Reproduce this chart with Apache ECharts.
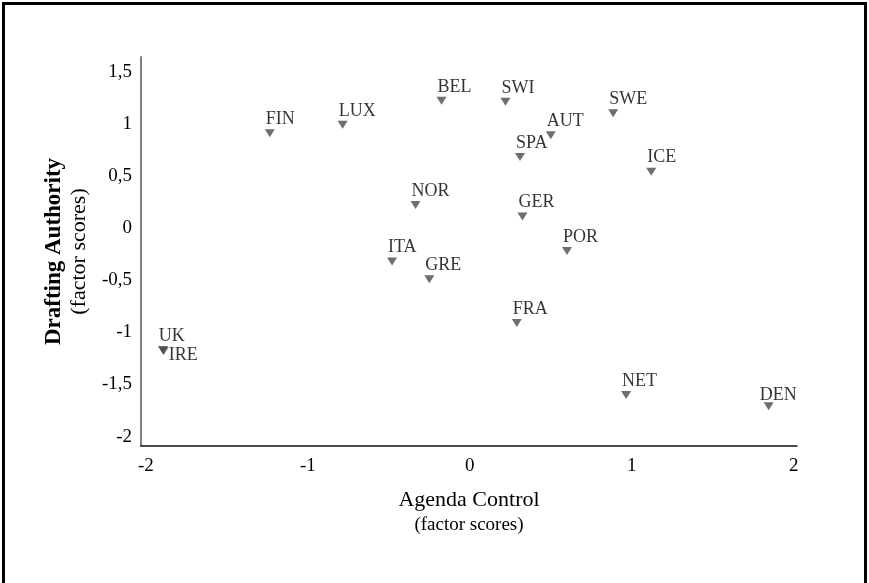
<!DOCTYPE html>
<html>
<head>
<meta charset="utf-8">
<script src="https://cdn.jsdelivr.net/npm/echarts@6/dist/echarts.min.js"></script>
<style>
html,body{margin:0;padding:0;background:#fff;}
#chart{width:869px;height:583px;}
</style>
</head>
<body>
<div id="chart"></div>
<script>
// ---- data ----
const countries = ['FIN','LUX','BEL','SWI','SWE','AUT','SPA','ICE','NOR','GER','ITA','GRE','POR','FRA','UK','IRE','NET','DEN'];
const agendaControl = [-1.235,-0.785,-0.175,0.22,0.885,0.50,0.31,1.12,-0.335,0.325,-0.48,-0.25,0.60,0.29,-1.895,-1.89,0.965,1.845];
const draftingAuthority = [0.91,0.99,1.22,1.21,1.10,0.89,0.68,0.54,0.22,0.11,-0.32,-0.49,-0.22,-0.91,-1.17,-1.18,-1.60,-1.71];
const xTickValues = [-2,-1,0,1,2];
const yTickValues = [-2,-1.5,-1,-0.5,0,0.5,1,1.5];

// ---- label placement styles (not data) ----
const defaultLabel = {position:[1,-1], align:'left', verticalAlign:'bottom'};
const labelOverrides = {
  IRE: {position:[10,8], align:'left', verticalAlign:'middle'},
  DEN: {position:[-4,2], align:'left', verticalAlign:'bottom'}
};

const fmt = v => String(v).replace('.', ',');
const serif = 'Liberation Serif';

const points = countries.map((c,i) => {
  const lp = labelOverrides[c] || defaultLabel;
  return {name:c, value:[agendaControl[i], draftingAuthority[i]], label:{position:lp.position, align:lp.align, verticalAlign:lp.verticalAlign}};
});

const chart = echarts.init(document.getElementById('chart'), null, {renderer:'canvas'});
chart.setOption({
  backgroundColor:'#fff',
  animation:false,
  graphic:[{
    type:'rect', shape:{x:3.5,y:3.5,width:862,height:640},
    style:{fill:'none', stroke:'#000', lineWidth:3}, silent:true
  }],
  grid:{left:141, right:72, top:57, bottom:137, containLabel:false},
  xAxis:{
    type:'value', min:-2.03, max:2.02,
    axisLine:{show:true, onZero:false, lineStyle:{color:'#111', width:1.5}},
    axisTick:{show:false}, splitLine:{show:false},
    axisLabel:{customValues:xTickValues, formatter:fmt, color:'#000', fontFamily:serif, fontSize:19, margin:11},
    name:'{a|Agenda Control}\n{b|(factor scores)}',
    nameLocation:'middle', nameGap:41,
    nameTextStyle:{rich:{
      a:{fontFamily:serif, fontSize:22, lineHeight:26, color:'#000', align:'center'},
      b:{fontFamily:serif, fontSize:19, lineHeight:24, color:'#000', align:'center'}
    }}
  },
  yAxis:{
    type:'value', min:-2.09, max:1.64,
    axisLine:{show:true, onZero:false, lineStyle:{color:'#808080', width:2}},
    axisTick:{show:false}, splitLine:{show:false},
    axisLabel:{customValues:yTickValues, formatter:fmt, color:'#000', fontFamily:serif, fontSize:19, margin:9},
    name:'{a|Drafting Authority}\n{b|(factor scores)}',
    nameLocation:'middle', nameRotate:90, nameGap:50,
    nameTextStyle:{rich:{
      a:{fontFamily:serif, fontSize:23, fontWeight:'bold', lineHeight:26, color:'#000', align:'center'},
      b:{fontFamily:serif, fontSize:22, lineHeight:24, color:'#000', align:'center'}
    }}
  },
  series:[{
    type:'scatter',
    symbol:'triangle', symbolRotate:180, symbolSize:[10,8],
    itemStyle:{color:'#4a4a4a'},
    label:{show:true, formatter:'{b}', color:'#000', fontFamily:serif, fontSize:18},
    data:points
  }]
});
</script>
</body>
</html>
